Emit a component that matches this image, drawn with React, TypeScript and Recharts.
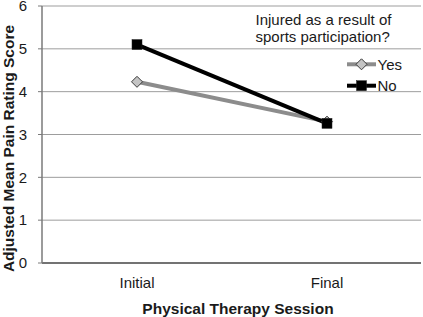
import React from 'react';
import { LineChart, Line, XAxis, YAxis, CartesianGrid, Legend, ReferenceLine } from 'recharts';

const categories = ['Initial', 'Final'];
const yesValues = [4.23, 3.3];
const noValues = [5.1, 3.26];
const yTicks = [0, 1, 2, 3, 4, 5, 6];
const legendTitle = ['Injured as a result of', 'sports participation?'];
const seriesNames = ['Yes', 'No'];

const data = categories.map((c, i) => ({ session: c, yes: yesValues[i], no: noValues[i] }));

const FONT = '"Liberation Sans", Arial, Helvetica, sans-serif';
const TEXT = '#1a1a1a';

const Diamond = (props: any) => {
  const { cx, cy } = props;
  if (cx == null || cy == null) return null;
  const r = 5.5;
  return (
    <polygon
      points={`${cx},${cy - r} ${cx + r},${cy} ${cx},${cy + r} ${cx - r},${cy}`}
      fill="#c4c4c4"
      stroke="#3a3a3a"
      strokeWidth={1}
    />
  );
};

const Square = (props: any) => {
  const { cx, cy } = props;
  if (cx == null || cy == null) return null;
  const s = 10;
  return <rect x={cx - s / 2} y={cy - s / 2} width={s} height={s} fill="#000" stroke="#222" strokeWidth={0.5} />;
};

const LegendContent = () => (
  <svg width={423} height={317} style={{ position: 'absolute', left: 0, top: 0, pointerEvents: 'none' }}>
    <text x={255.5} y={24.5} fontFamily={FONT} fontSize={15} fill={TEXT}>{legendTitle[0]}</text>
    <text x={255.5} y={42} fontFamily={FONT} fontSize={15} fill={TEXT}>{legendTitle[1]}</text>
    <line x1={347} x2={376} y1={64.3} y2={64.3} stroke="#8c8c8c" strokeWidth={4} />
    <Diamond cx={361.5} cy={64.3} />
    <text x={377.5} y={70} fontFamily={FONT} fontSize={15} fill={TEXT}>{seriesNames[0]}</text>
    <line x1={347} x2={376} y1={85.7} y2={85.7} stroke="#000" strokeWidth={4} />
    <Square cx={361.5} cy={85.7} />
    <text x={377.5} y={90.8} fontFamily={FONT} fontSize={15} fill={TEXT}>{seriesNames[1]}</text>
  </svg>
);

export default function App() {
  return (
    <div style={{ position: 'absolute', left: 0, top: 0, width: 423, height: 317, background: '#fff' }}>
      <LineChart width={423} height={317} data={data} margin={{ top: 6, right: 2, left: 0, bottom: 0 }}>
        <CartesianGrid horizontal vertical={false} stroke="#9d9d9d" strokeWidth={1} />
        <XAxis
          xAxisId="g"
          type="number"
          domain={[0, 2]}
          ticks={[0, 1, 2]}
          tick={false}
          axisLine={false}
          tickLine={{ stroke: '#777', strokeWidth: 1 }}
          tickSize={4}
          height={0}
        />
        <XAxis
          dataKey="session"
          type="category"
          padding={{ left: 95, right: 94 }}
          height={54}
          tickLine={false}
          tickSize={0}
          tickMargin={14}
          axisLine={{ stroke: '#555', strokeWidth: 1.5 }}
          tick={{ fill: TEXT, fontSize: 15, fontFamily: FONT }}
          label={(p: any) => {
            const vb = p.viewBox || {};
            return (
              <text
                x={vb.x + vb.width / 2 + 6.5}
                y={313.8}
                textAnchor="middle"
                fontFamily={FONT}
                fontWeight="bold"
                fontSize={15.5}
                fill={TEXT}
              >
                Physical Therapy Session
              </text>
            );
          }}
        />
        <YAxis
          domain={[0, 6]}
          ticks={yTicks}
          width={42}
          interval={0}
          tickSize={4}
          tickMargin={11}
          axisLine={{ stroke: '#7a7a7a', strokeWidth: 1.5 }}
          tickLine={{ stroke: '#7a7a7a' }}
          tick={{ fill: TEXT, fontSize: 15, fontFamily: FONT }}
          label={(p: any) => {
            const vb = p.viewBox || {};
            const cx = 13.5;
            const cy = vb.y + vb.height / 2 + 14;
            return (
              <text
                x={cx}
                y={cy}
                transform={`rotate(-90, ${cx}, ${cy})`}
                textAnchor="middle"
                fontFamily={FONT}
                fontWeight="bold"
                fontSize={15.5}
                fill={TEXT}
              >
                Adjusted Mean Pain Rating Score
              </text>
            );
          }}
        />
        <ReferenceLine xAxisId="g" x={2} stroke="#7a7a7a" strokeWidth={1.5} />
        <Line
          dataKey="yes"
          name={seriesNames[0]}
          stroke="#8c8c8c"
          strokeWidth={4}
          dot={<Diamond />}
          activeDot={false}
          isAnimationActive={false}
        />
        <Line
          dataKey="no"
          name={seriesNames[1]}
          stroke="#000"
          strokeWidth={4}
          dot={<Square />}
          activeDot={false}
          isAnimationActive={false}
        />
        <Legend
          layout="vertical"
          align="center"
          verticalAlign="middle"
          content={() => <LegendContent />}
          wrapperStyle={{ position: 'absolute', left: 0, top: 0, width: 423, height: 317, pointerEvents: 'none' }}
        />
      </LineChart>
    </div>
  );
}
